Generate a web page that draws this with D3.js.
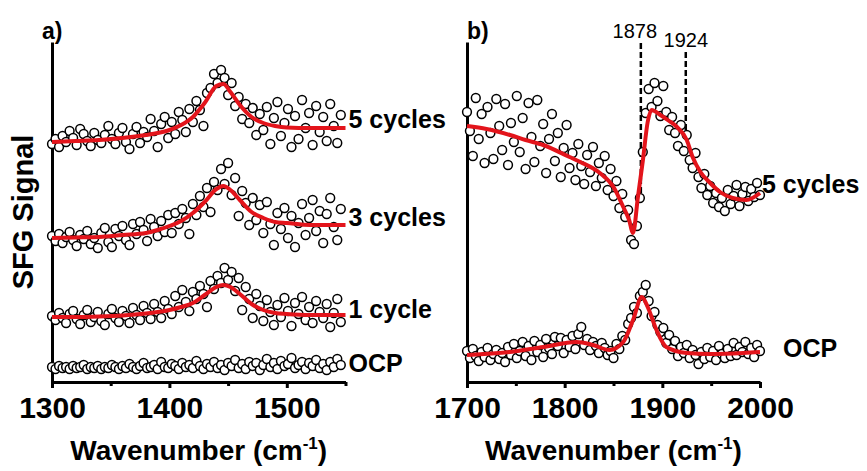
<!DOCTYPE html>
<html lang="es">
<head>
    <meta charset="UTF-8">
    <title>Espectros SFG</title>
    <script src="https://d3js.org/d3.v7.min.js"></script>
    <style>
      body { margin: 0; background: #fff; }
      text { font-family: "Liberation Sans", Arial, sans-serif; }
    </style>
    <script type="text/javascript">
      // Marcas del eje X de cada panel (cm-1)
      var marcasA = [1300, 1350, 1400, 1450, 1500, 1550];
      var marcasB = [1700, 1750, 1800, 1850, 1900, 1950, 2000];

      // Nombres de las series
      var nombresA = ["5 cycles", "3 cycles", "1 cycle", "OCP"];
      var nombresB = ["5 cycles", "OCP"];

      // Panel a: puntos medidos cada 3 cm-1 desde 1300 (señal en u.a.)
      var inicioA = 1300, pasoA = 3;
      var cincoA = [23.8,24.3,23.5,24.6,24.0,25.1,24.4,23.7,25.3,24.8,
                    24.1,23.6,24.9,24.2,23.9,24.7,25.6,24.3,23.8,24.9,
                    25.4,24.0,23.3,24.8,25.5,23.9,25.0,24.5,26.3,25.1,
                    23.5,25.8,26.5,24.4,26.0,24.8,27.0,26.2,25.0,27.3,
                    26.0,28.1,27.2,25.6,28.9,29.4,30.8,29.9,31.2,30.4,
                    28.7,29.9,27.6,28.5,26.3,27.8,25.9,27.4,24.7,26.8,
                    25.2,27.5,23.8,26.4,28.0,24.6,25.9,27.3,23.5,26.6,
                    24.3,28.2,25.4,26.9,23.7,27.6,25.0,26.5,24.1,27.8,
                    25.6,23.9,26.7];
      var tresA = [14.6,14.1,14.8,13.9,14.5,15.0,14.2,13.6,14.7,14.3,
                   15.1,13.8,14.4,13.4,14.9,15.4,14.0,13.5,15.3,14.6,
                   15.6,14.2,13.7,15.8,14.8,16.0,15.2,14.1,16.3,15.5,
                   14.6,16.1,15.0,16.7,14.9,16.9,15.8,17.3,16.4,14.8,
                   17.8,16.7,18.6,17.5,19.4,17.0,20.0,19.2,21.3,19.8,
                   21.9,18.7,20.4,16.6,19.1,17.9,15.7,18.4,16.2,17.7,
                   14.9,18.0,15.8,13.7,16.9,15.3,17.4,14.4,16.6,13.5,
                   15.9,17.8,14.7,16.4,18.2,15.1,17.1,13.9,16.8,18.4,
                   15.5,14.2,17.3];
      var unoA = [6.6,6.2,6.9,6.4,5.9,6.8,7.1,6.3,5.8,6.7,
                  7.2,6.0,6.5,7.0,6.1,5.7,6.8,7.3,6.4,6.0,
                  7.1,6.6,5.9,7.4,6.7,6.2,7.6,6.9,6.3,7.8,
                  7.0,6.4,8.1,7.3,6.8,8.6,7.5,9.2,8.0,7.1,
                  9.0,8.3,9.6,8.8,7.5,10.1,9.3,10.6,9.9,11.4,
                  10.2,11.0,9.1,10.4,7.2,9.5,8.3,6.4,8.8,7.6,
                  6.1,8.2,7.0,5.7,7.7,6.5,8.4,7.1,5.6,7.9,
                  6.8,8.5,6.2,7.5,5.9,8.1,7.0,6.4,7.8,5.5,
                  6.9,8.3,6.0];
      var ocpA = [1.5,1.3,1.6,1.4,1.5,1.3,1.6,1.4,1.5,1.7,
                  1.3,1.5,1.4,1.6,1.3,1.5,1.4,1.7,1.5,1.3,
                  1.6,1.4,1.8,1.5,1.3,1.6,1.9,1.4,1.5,1.7,
                  1.3,2.0,1.5,1.4,1.8,1.6,1.3,1.9,1.5,1.7,
                  1.4,2.1,1.6,1.3,1.8,1.5,2.0,1.4,1.7,1.2,
                  1.9,1.6,2.2,1.4,1.8,1.3,2.0,1.6,1.9,1.2,
                  1.7,2.3,1.5,1.9,1.3,2.1,1.6,1.8,2.4,1.4,
                  1.7,2.0,1.3,1.9,1.6,2.2,1.4,1.8,1.2,2.0,
                  1.5,2.3,1.7];

      // Panel a: curvas de ajuste
      var ajusteXA = [1300,1320,1340,1360,1380,1390,1400,1410,1420,1430,1440,1446,1452,1460,1470,1480,1490,1500,1520,1550];
      var ajusteCincoA = [24.0,24.1,24.2,24.4,24.7,24.9,25.2,25.7,26.5,27.9,29.6,29.8,29.0,27.7,26.5,25.9,25.6,25.45,25.4,25.4];
      var ajusteTresA = [14.4,14.45,14.5,14.7,14.9,15.2,15.6,16.1,16.9,18.0,19.3,19.6,19.2,18.2,17.0,16.4,16.0,15.9,15.7,15.7];
      var ajusteUnoA = [6.5,6.5,6.55,6.65,6.85,7.0,7.2,7.5,7.9,8.7,9.5,9.7,9.5,8.8,7.8,7.2,6.9,6.8,6.7,6.7];

      // Panel b: puntos medidos cada 3 cm-1 desde 1700
      var inicioB = 1700, pasoB = 3;
      var cincoB = [27.0,25.1,22.6,28.4,24.3,26.8,21.9,27.5,24.9,22.3,
                    28.3,25.6,23.2,27.8,21.7,25.9,24.0,28.6,23.0,26.4,
                    21.3,27.9,24.5,22.0,28.2,23.6,25.8,20.9,24.3,26.8,
                    22.1,24.9,20.5,23.4,25.7,21.4,22.9,20.2,23.8,21.6,
                    19.8,22.7,21.0,23.5,19.6,21.9,20.4,22.6,19.2,21.3,
                    18.6,20.1,17.4,18.8,16.5,17.2,14.2,13.8,15.6,18.4,
                    23.0,26.9,29.3,27.5,29.9,28.1,26.6,29.6,27.0,25.2,
                    26.5,24.9,23.6,25.7,23.1,24.7,22.2,21.4,22.9,20.5,
                    19.4,20.8,18.7,19.6,17.9,18.9,17.5,18.4,17.1,19.2,
                    17.8,18.6,19.7,17.6,18.8,19.5,18.1,19.3,18.5,19.9,
                    18.7];
      var ocpB = [3.1,2.4,3.3,2.6,2.1,3.0,2.5,3.4,2.2,2.8,
                  3.2,2.3,2.9,2.0,3.5,2.7,3.8,2.4,3.1,4.0,
                  2.6,3.6,2.2,4.1,3.0,3.7,2.5,4.3,3.4,2.8,
                  4.5,3.6,4.4,2.9,4.2,3.5,4.6,3.3,4.8,5.5,
                  3.7,4.3,3.2,4.0,3.6,2.9,3.9,3.4,2.7,3.1,
                  2.4,3.8,3.3,4.6,4.2,5.8,6.4,7.5,6.9,8.6,
                  9.0,9.7,8.1,6.6,7.0,5.7,5.0,5.4,3.9,4.7,
                  3.3,4.1,2.6,3.5,2.9,3.7,2.4,3.2,2.7,1.8,
                  3.0,2.3,3.4,2.5,3.1,2.2,3.6,2.8,2.4,3.3,
                  2.6,3.9,2.7,3.5,3.0,4.0,2.8,3.4,2.5,3.7,
                  3.1];

      // Panel b: curvas de ajuste
      var ajusteXB5 = [1700,1720,1744,1760,1778,1805,1816,1836,1850,1860,1866,1870,1875,1880,1885,1889,1898,1907,1915,1925,1931,1939,1949,1959,1972,1986,2000];
      var ajusteCincoB = [25.6,25.3,24.7,24.2,23.7,22.5,22.0,20.9,19.5,17.5,16.2,14.9,18.5,22.1,26.0,27.2,26.7,26.1,25.5,24.2,22.5,21.0,19.9,19.0,18.4,18.2,18.9];
      var ajusteXBocp = [1700,1744,1778,1812,1829,1846,1860,1870,1879,1885,1894,1904,1925,1949,1983,2000];
      var ajusteOcpB = [2.7,3.0,3.5,4.0,3.7,3.2,4.0,6.2,8.5,7.5,5.2,3.5,2.9,2.8,2.9,3.0];

      // Líneas de referencia (cm-1) y su extensión vertical (u.a.)
      var picos = [1878, 1924];
      var picosArriba = [33.9, 33.0];
      var picosAbajo = [17.8, 24.3];

      function diagrama(){
        var ancho = 867, alto = 471;
        var rojo = "#e3141b";
        var fuente = "'Liberation Sans', Arial, sans-serif";

        var svg = d3.select("body").append("svg")
                    .attr("width", ancho)
                    .attr("height", alto);

        // Escalas
        var y = d3.scaleLinear().domain([0, 34]).range([382, 42]);
        var xA = d3.scaleLinear().domain([1300, 1550]).range([52, 345.5]);
        var xB = d3.scaleLinear().domain([1700, 2000]).range([467, 760]);

        var linea = function (x) {
          return d3.line()
                   .x(function (d) { return x(d[0]); })
                   .y(function (d) { return y(d[1]); })
                   .curve(d3.curveMonotoneX);
        };

        // Ejes de un panel
        function ejes(x, marcas) {
          var gx = svg.append("g")
                      .attr("transform", "translate(0,382)")
                      .call(d3.axisBottom(x).tickValues(marcas).tickSize(6)
                              .tickSizeOuter(0).tickPadding(9)
                              .tickFormat(function (d) { return d % 100 === 0 ? d : ""; }));
          gx.selectAll("path, line").attr("stroke", "#000").attr("stroke-width", 3);
          gx.selectAll(".tick line").attr("y2", function (d) { return d % 100 === 0 ? 6 : 4; });
          gx.selectAll("text")
            .attr("font-family", fuente).attr("font-size", 30)
            .attr("font-weight", "bold").attr("fill", "#000");

          var gy = svg.append("g")
                      .attr("transform", "translate(" + x.range()[0] + ",0)")
                      .call(d3.axisLeft(y).tickValues([]).tickSizeOuter(0));
          gy.select("path").attr("stroke", "#000").attr("stroke-width", 3);

          // Título del eje X con superíndice
          var t = svg.append("text")
                     .attr("x", (x.range()[0] + x.range()[1]) / 2)
                     .attr("y", 460)
                     .attr("text-anchor", "middle")
                     .attr("font-size", 28)
                     .attr("font-weight", "bold")
                     .text("Wavenumber (cm");
          t.append("tspan").attr("font-size", 17).attr("dy", -11).text("-1");
          t.append("tspan").attr("dy", 11).text(")");
        }

        // Puntos de una serie
        function puntos(x, valores, inicio, paso) {
          svg.append("g").selectAll("circle")
             .data(valores)
             .enter()
             .append("circle")
             .attr("cx", function (d, i) { return x(inicio + paso * i); })
             .attr("cy", function (d) { return y(d); })
             .attr("r", 4.4)
             .attr("fill", "#fff")
             .attr("stroke", "#000")
             .attr("stroke-width", 1.5);
        }

        // Curva de ajuste
        function ajuste(x, xs, ys) {
          svg.append("path")
             .datum(d3.zip(xs, ys))
             .attr("d", linea(x))
             .attr("fill", "none")
             .attr("stroke", rojo)
             .attr("stroke-width", 4)
             .attr("stroke-linejoin", "round");
        }

        function etiqueta(px, py, texto) {
          svg.append("text")
             .attr("x", px).attr("y", py).attr("dy", "0.35em")
             .attr("font-size", 25).attr("font-weight", "bold")
             .text(texto);
        }

        // ---------- Panel a ----------
        ejes(xA, marcasA);
        puntos(xA, ocpA, inicioA, pasoA);
        puntos(xA, unoA, inicioA, pasoA);
        puntos(xA, tresA, inicioA, pasoA);
        puntos(xA, cincoA, inicioA, pasoA);
        ajuste(xA, ajusteXA, ajusteUnoA);
        ajuste(xA, ajusteXA, ajusteTresA);
        ajuste(xA, ajusteXA, ajusteCincoA);

        var finA = xA(1550) + 3;
        etiqueta(finA, y(ajusteCincoA[ajusteCincoA.length - 1]) - 9, nombresA[0]);
        etiqueta(finA, y(ajusteTresA[ajusteTresA.length - 1]) - 8, nombresA[1]);
        etiqueta(finA, y(ajusteUnoA[ajusteUnoA.length - 1]) - 6, nombresA[2]);
        etiqueta(finA, y(d3.mean(ocpA)) - 3, nombresA[3]);

        // ---------- Panel b ----------
        ejes(xB, marcasB);

        // Líneas discontinuas de referencia
        picos.forEach(function (p, i) {
          svg.append("line")
             .attr("x1", xB(p)).attr("x2", xB(p))
             .attr("y1", y(picosArriba[i])).attr("y2", y(picosAbajo[i]))
             .attr("stroke", "#000").attr("stroke-width", 2.5)
             .attr("stroke-dasharray", "6,3");
        });
        svg.append("text").attr("x", xB(picos[0]) - 6).attr("y", 38)
           .attr("text-anchor", "middle").attr("font-size", 20).text(picos[0]);
        svg.append("text").attr("x", xB(picos[1])).attr("y", 47)
           .attr("text-anchor", "middle").attr("font-size", 20).text(picos[1]);

        puntos(xB, ocpB, inicioB, pasoB);
        puntos(xB, cincoB, inicioB, pasoB);
        ajuste(xB, ajusteXBocp, ajusteOcpB);
        ajuste(xB, ajusteXB5, ajusteCincoB);

        etiqueta(xB(2000) + 2, y(ajusteCincoB[ajusteCincoB.length - 1]) - 9, nombresB[0]);
        etiqueta(xB(2000) + 23, y(ajusteOcpB[ajusteOcpB.length - 1]) - 4, nombresB[1]);

        // Letras de panel y título del eje Y
        svg.append("text").attr("x", 42).attr("y", 39)
           .attr("font-size", 23).attr("font-weight", "bold").text("a)");
        svg.append("text").attr("x", 467).attr("y", 39)
           .attr("font-size", 23).attr("font-weight", "bold").text("b)");
        svg.append("text")
           .attr("transform", "translate(33,212) rotate(-90)")
           .attr("text-anchor", "middle")
           .attr("font-size", 29).attr("font-weight", "bold")
           .text("SFG Signal");
      }
    </script>
</head>
<body onload="diagrama()">
</body>
</html>
